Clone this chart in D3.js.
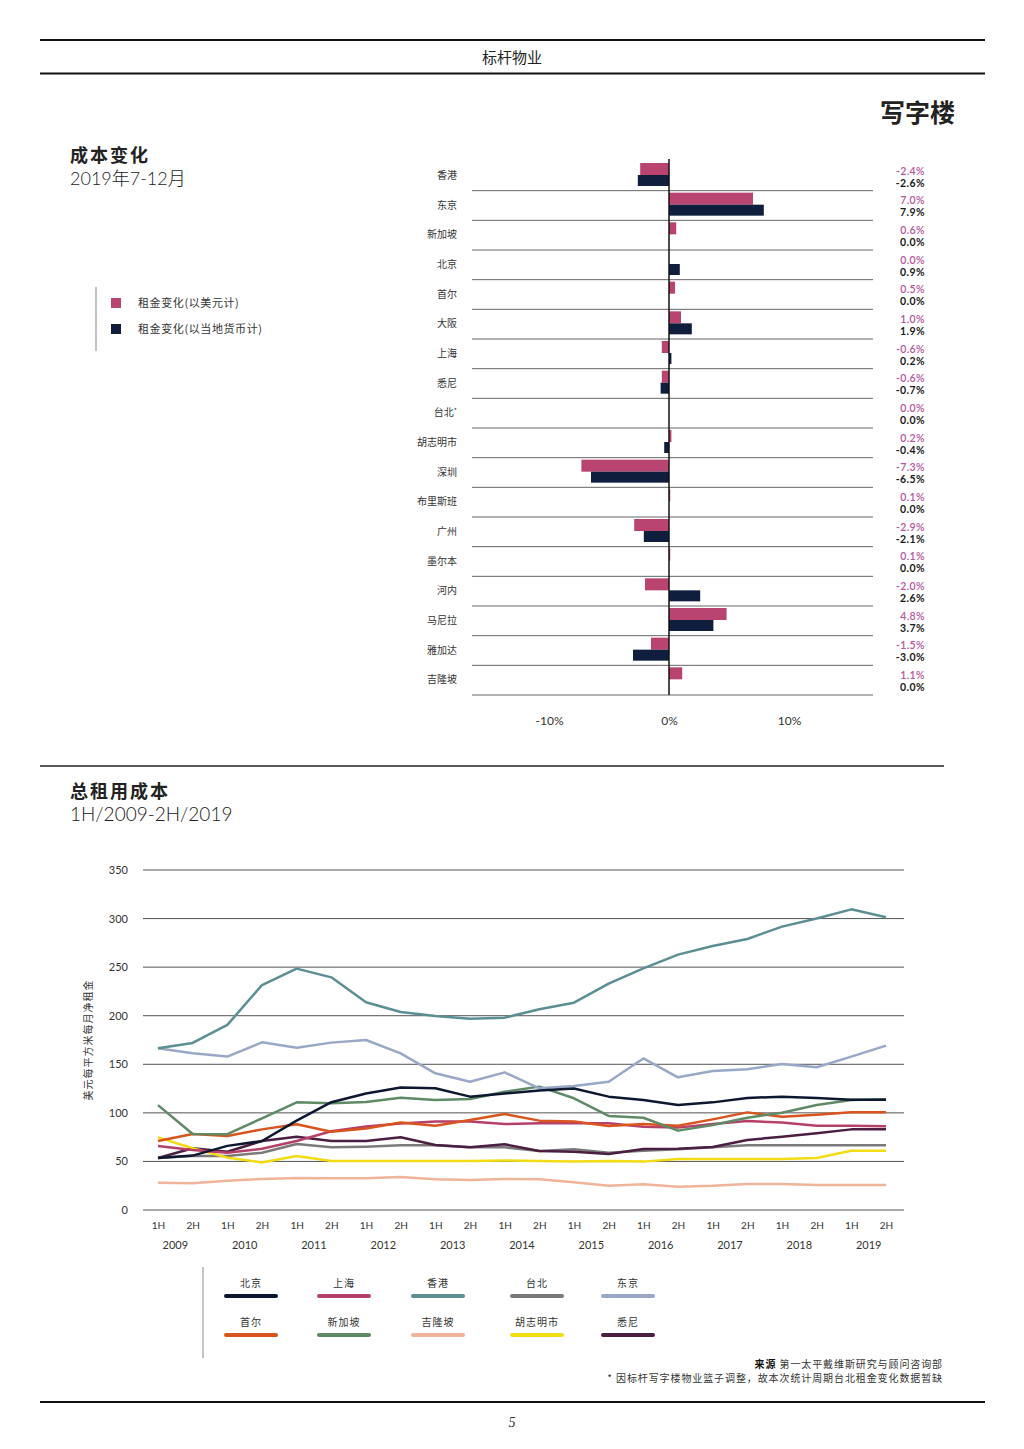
<html>
    <head>
        <meta charset='UTF-8'>
        <script src="https://d3js.org/d3.v7.min.js"></script>
        <style>
            body { margin: 0; background: white; }
            text { font-family: 'Lato', 'Noto Sans CJK SC', sans-serif; fill: #222; }
            .cjk { font-family: 'Noto Sans CJK SC', sans-serif; }
            .rule { stroke: #111; stroke-width: 2px; }
            .grid { stroke: #555; stroke-width: 1px; }
        </style>
    </head>
    <body>
        <svg id="page" width="1024" height="1449"></svg>

        <script>
            // ---- data: rent change, 2H 2019 ----
            const cities = ['香港', '东京', '新加坡', '北京', '首尔', '大阪', '上海', '悉尼', '台北',
                            '胡志明市', '深圳', '布里斯班', '广州', '墨尔本', '河内', '马尼拉', '雅加达', '吉隆坡'];
            const usdChange   = [-2.4, 7.0, 0.6, 0.0, 0.5, 1.0, -0.6, -0.6, 0.0, 0.2, -7.3, 0.1, -2.9, 0.1, -2.0, 4.8, -1.5, 1.1];
            const localChange = [-2.6, 7.9, 0.0, 0.9, 0.0, 1.9, 0.2, -0.7, 0.0, -0.4, -6.5, 0.0, -2.1, 0.0, 2.6, 3.7, -3.0, 0.0];
            const changeTicks = [-10, 0, 10];

            // ---- data: total occupancy cost, USD / sqm / month ----
            const years = ['2009', '2010', '2011', '2012', '2013', '2014', '2015', '2016', '2017', '2018', '2019'];
            const halves = ['1H', '2H'];
            const costTicks = [0, 50, 100, 150, 200, 250, 300, 350];

            const beijing   = [53.5, 56, 66, 71, 92, 111, 120, 126, 125.3, 116.7, 120, 122.9, 125, 116.7, 113.2, 108, 110.8, 115.3, 116.7, 115.3, 113.6, 113.6];
            const shanghai  = [66, 61.8, 59, 63, 71, 81, 86, 89, 91, 91, 88.5, 89.2, 89.2, 89.2, 85.8, 84.8, 88.5, 91.6, 90, 86.8, 86.8, 86.1];
            const hongkong  = [166.4, 172, 190.5, 231.6, 248.5, 239.5, 213.8, 203.8, 199.7, 197, 198, 206.6, 213.4, 233, 248.8, 262.9, 271.8, 279, 291.7, 300, 309.5, 301.3];
            const taipei    = [53.5, 55.6, 55.6, 59, 68, 64.5, 65.2, 66.6, 66.6, 64.5, 64.5, 60.7, 62.5, 59, 61, 62.5, 64.5, 66.6, 66.6, 66.6, 66.6, 66.6];
            const tokyo     = [166.4, 161.3, 157.9, 172.6, 167, 172.3, 175, 161.3, 140.7, 132, 141.7, 125.3, 127.7, 132, 156, 136.6, 143, 145, 150.3, 146.9, 157.9, 169.2];
            const seoul     = [71, 78.2, 76.2, 83, 88.2, 80.6, 84, 90, 86.8, 92.7, 98.8, 92, 91, 86.5, 88.5, 86.8, 93.3, 100.5, 96, 98.1, 100.5, 100.5];
            const singapore = [108, 78.2, 78, 94.4, 110.8, 109.8, 111.2, 115.6, 113.2, 114.3, 121.8, 127, 115, 96.8, 95, 81.7, 87.5, 95, 100.2, 108, 113.2, 114];
            const kualaLumpur = [28, 27.5, 30.2, 32, 33, 32.6, 32.6, 34, 31.6, 30.9, 32, 31.6, 28.5, 25, 26.4, 24, 25, 26.8, 26.8, 25.7, 25.7, 25.7];
            const hcmc      = [74.8, 63.5, 53.9, 49, 55.6, 50.4, 50.4, 50.4, 50.4, 50.4, 51, 50.4, 49.8, 50.4, 49.8, 52.5, 52.5, 52.5, 52.5, 53.5, 61, 61];
            const sydney    = [53.5, 63.5, 60, 71, 75.5, 71, 71, 74.8, 67, 64.5, 67.6, 60.7, 60, 57.7, 62.8, 63.1, 64.9, 72, 75.5, 79, 83, 83];

            const seriesNames = ['北京', '上海', '香港', '台北', '东京', '首尔', '新加坡', '吉隆坡', '胡志明市', '悉尼'];
            const seriesValues = [beijing, shanghai, hongkong, taipei, tokyo, seoul, singapore, kualaLumpur, hcmc, sydney];
            const seriesColors = ['#0d1830', '#b5406a', '#5b8f94', '#7a7a7a', '#98a8c6',
                                  '#d9541e', '#5e8a66', '#efb49a', '#f3dc14', '#4a1f42'];

            const svg = d3.select('#page');

            // ---- page header ----
            svg.append('line').attr('class', 'rule').attr('x1', 40).attr('x2', 985).attr('y1', 40).attr('y2', 40);
            svg.append('line').attr('class', 'rule').attr('x1', 40).attr('x2', 985).attr('y1', 73.5).attr('y2', 73.5);
            svg.append('text').attr('class', 'cjk').attr('x', 512).attr('y', 63)
               .attr('text-anchor', 'middle').style('font-size', '15px').text('标杆物业');
            svg.append('text').attr('class', 'cjk').attr('x', 955).attr('y', 122)
               .attr('text-anchor', 'end').style('font-size', '25px').style('font-weight', 'bold').text('写字楼');

            // ---- section 1 titles ----
            svg.append('text').attr('class', 'cjk').attr('x', 70).attr('y', 162)
               .style('font-size', '18px').style('font-weight', 'bold').style('letter-spacing', '2px').text('成本变化');
            svg.append('text').attr('x', 70).attr('y', 185)
               .style('font-size', '18px').style('font-weight', 300).text('2019年7-12月');

            // bar legend
            svg.append('line').attr('x1', 96).attr('x2', 96).attr('y1', 287).attr('y2', 351)
               .attr('stroke', '#888').attr('stroke-width', 1);
            const barLegend = [['租金变化(以美元计)', '#b8446f'], ['租金变化(以当地货币计)', '#0f1e3c']];
            barLegend.forEach((d, i) => {
                svg.append('rect').attr('x', 111).attr('y', 298 + i * 26).attr('width', 10).attr('height', 10).attr('fill', d[1]);
                svg.append('text').attr('class', 'cjk').attr('x', 138).attr('y', 307 + i * 26)
                   .style('font-size', '11px').style('letter-spacing', '0.6px').style('fill', '#333').text(d[0]);
            });

            // ---- bar chart ----
            const x = d3.scaleLinear().domain([-10, 10]).range([549, 789]);
            const y = d3.scaleBand().domain(cities).range([161, 695]);
            const sub = d3.scaleBand().domain(['usd', 'local']).range([2, 26]);

            const rows = cities.map((c, i) => ({ city: c, usd: usdChange[i], local: localChange[i] }));
            const bars = svg.append('g');

            bars.selectAll('line.sep').data(cities)
                .join('line').attr('class', 'sep')
                .attr('x1', 472).attr('x2', 873)
                .attr('y1', d => y(d) + y.bandwidth()).attr('y2', d => y(d) + y.bandwidth())
                .attr('stroke', '#666').attr('stroke-width', 1);

            bars.selectAll('rect.usd').data(rows)
                .join('rect').attr('class', 'usd')
                .attr('x', d => x(Math.min(0, d.usd))).attr('width', d => Math.abs(x(d.usd) - x(0)))
                .attr('y', d => y(d.city) + sub('usd')).attr('height', sub.bandwidth())
                .attr('fill', '#b8446f');

            bars.selectAll('rect.local').data(rows)
                .join('rect').attr('class', 'local')
                .attr('x', d => x(Math.min(0, d.local))).attr('width', d => Math.abs(x(d.local) - x(0)))
                .attr('y', d => y(d.city) + sub('local')).attr('height', sub.bandwidth() - 1)
                .attr('fill', '#0f1e3c');

            bars.append('line').attr('x1', x(0)).attr('x2', x(0)).attr('y1', 159).attr('y2', 695)
                .attr('stroke', '#111').attr('stroke-width', 1.5);

            const catLabels = bars.selectAll('text.cat').data(rows)
                .join('text').attr('class', 'cat cjk')
                .attr('x', 457).attr('y', d => y(d.city) + 18)
                .attr('text-anchor', 'end').style('font-size', '10px').style('fill', '#333')
                .text(d => d.city);
            catLabels.filter(d => d.city === '台北').append('tspan')
                .attr('dy', -3).style('font-size', '7px').text('*');

            const fmt = d => d3.format('.1f')(d).replace('−', '-') + '%';
            bars.selectAll('text.vusd').data(rows)
                .join('text').attr('class', 'vusd')
                .attr('x', 925).attr('y', d => y(d.city) + 13.5)
                .attr('text-anchor', 'end').style('font-size', '10.5px').style('font-weight', 600).style('fill', '#b5559c')
                .style('letter-spacing', '0.4px').text(d => fmt(d.usd));
            bars.selectAll('text.vlocal').data(rows)
                .join('text').attr('class', 'vlocal')
                .attr('x', 925).attr('y', d => y(d.city) + 25.5)
                .attr('text-anchor', 'end').style('font-size', '10.5px').style('font-weight', 'bold').style('fill', '#1a1a1a')
                .style('letter-spacing', '0.4px').text(d => fmt(d.local));

            const xAxis = svg.append('g').attr('transform', 'translate(0,713)')
                .call(d3.axisBottom(x).tickValues(changeTicks).tickSize(0).tickFormat(d => d + '%'));
            xAxis.select('.domain').remove();
            xAxis.selectAll('text').style('font-size', '12px').style('font-family', 'Lato, sans-serif').style('fill', '#333');

            // ---- section 2 ----
            svg.append('line').attr('x1', 40).attr('x2', 944).attr('y1', 766).attr('y2', 766)
               .attr('stroke', '#222').attr('stroke-width', 1.5);
            svg.append('text').attr('class', 'cjk').attr('x', 70).attr('y', 798)
               .style('font-size', '18px').style('font-weight', 'bold').style('letter-spacing', '2px').text('总租用成本');
            svg.append('text').attr('x', 70).attr('y', 821)
               .style('font-size', '19px').style('font-weight', 300).text('1H/2009-2H/2019');

            // ---- line chart ----
            const periods = [];
            years.forEach(yr => halves.forEach(h => periods.push(h + '/' + yr)));

            const px = d3.scalePoint().domain(periods).range([158, 886]);
            const py = d3.scaleLinear().domain([0, 350]).range([1210, 870]);

            const chart = svg.append('g');
            chart.selectAll('line.grid').data(costTicks)
                 .join('line').attr('class', 'grid')
                 .attr('x1', 143).attr('x2', 904)
                 .attr('y1', d => py(d)).attr('y2', d => py(d))
                 .attr('stroke', d => (d === 300 || d === 0) ? '#999' : '#222');

            const yAxis = chart.append('g').attr('transform', 'translate(131,0)')
                 .call(d3.axisLeft(py).tickValues(costTicks).tickSize(0));
            yAxis.select('.domain').remove();
            yAxis.selectAll('text').style('font-size', '11px').style('font-family', 'Lato, sans-serif').style('fill', '#333');

            chart.append('text').attr('class', 'cjk')
                 .attr('transform', 'translate(92,1040) rotate(-90)')
                 .attr('text-anchor', 'middle').style('font-size', '10px').style('letter-spacing', '1px').style('fill', '#333')
                 .text('美元每平方米每月净租金');

            const xAxis2 = chart.append('g').attr('transform', 'translate(0,1219)')
                 .call(d3.axisBottom(px).tickSize(0).tickFormat(d => d.split('/')[0]));
            xAxis2.select('.domain').remove();
            xAxis2.selectAll('text').style('font-size', '10px').style('font-family', 'Lato, sans-serif').style('fill', '#333');

            chart.selectAll('text.year').data(years)
                 .join('text').attr('class', 'year')
                 .attr('x', d => (px('1H/' + d) + px('2H/' + d)) / 2).attr('y', 1249)
                 .attr('text-anchor', 'middle').style('font-size', '11px').style('fill', '#333').text(d => d);

            const line = d3.line().x((d, i) => px(periods[i])).y(d => py(d));
            const drawOrder = [7, 3, 9, 8, 1, 5, 6, 4, 2, 0];
            chart.selectAll('path.series').data(drawOrder)
                 .join('path').attr('class', 'series')
                 .attr('d', i => line(seriesValues[i]))
                 .attr('fill', 'none').attr('stroke', i => seriesColors[i])
                 .attr('stroke-width', 2.5).attr('stroke-linejoin', 'round');

            // line legend
            svg.append('line').attr('x1', 203).attr('x2', 203).attr('y1', 1267).attr('y2', 1358)
               .attr('stroke', '#888').attr('stroke-width', 1);
            const legendX = [251, 344, 438, 537, 628];
            seriesNames.forEach((name, i) => {
                const cx = legendX[i % 5];
                const ry = 1287 + Math.floor(i / 5) * 39;
                svg.append('text').attr('class', 'cjk').attr('x', cx).attr('y', ry)
                   .attr('text-anchor', 'middle').style('font-size', '10px').style('letter-spacing', '1px').style('fill', '#333')
                   .text(name);
                svg.append('line').attr('x1', cx - 25).attr('x2', cx + 25).attr('y1', ry + 9).attr('y2', ry + 9)
                   .attr('stroke', seriesColors[i]).attr('stroke-width', 4).attr('stroke-linecap', 'round');
            });

            // source
            const src = svg.append('text').attr('class', 'cjk').attr('x', 943).attr('y', 1368)
               .attr('text-anchor', 'end').style('font-size', '10px').style('letter-spacing', '0.9px').style('fill', '#333');
            src.append('tspan').style('font-weight', 'bold').style('fill', '#111').text('来源 ');
            src.append('tspan').text('第一太平戴维斯研究与顾问咨询部');
            svg.append('text').attr('class', 'cjk').attr('x', 943).attr('y', 1382)
               .attr('text-anchor', 'end').style('font-size', '10px').style('letter-spacing', '0.9px').style('fill', '#333')
               .text('* 因标杆写字楼物业篮子调整，故本次统计周期台北租金变化数据暂缺');

            // footer
            svg.append('line').attr('class', 'rule').attr('x1', 40).attr('x2', 985).attr('y1', 1402).attr('y2', 1402);
            svg.append('text').attr('x', 512).attr('y', 1427).attr('text-anchor', 'middle')
               .style('font-family', 'Liberation Serif, serif').style('font-style', 'italic').style('font-size', '14px').style('fill', '#333')
               .text('5');
        </script>
    </body>
</html>
